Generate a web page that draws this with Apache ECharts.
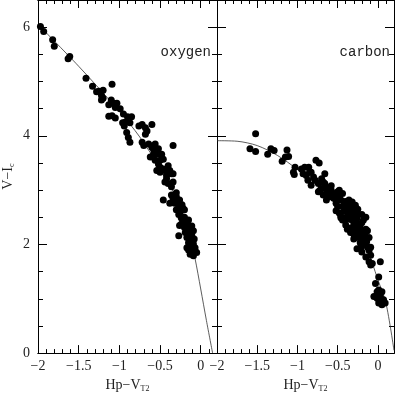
<!DOCTYPE html>
<html>
<head>
<meta charset="utf-8">
<script src="https://cdn.jsdelivr.net/npm/echarts@6/dist/echarts.min.js"></script>
<style>
html, body { margin: 0; padding: 0; background: #fff; }
#main { width: 397px; height: 398px; }
</style>
</head>
<body>
<div id="main"></div>
<script>
// oxygen stars: [Hp-VT2, V-Ic]
var oxygenPoints = [
  [-1.97,6.01],[-1.93,5.92],[-1.82,5.77],[-1.80,5.65],[-1.63,5.42],[-1.61,5.46],[-1.41,5.06],[-1.33,4.91],
  [-1.28,4.81],[-1.25,4.82],[-1.20,4.84],[-1.09,4.95],[-1.22,4.74],[-1.22,4.66],[-1.20,4.69],[-1.10,4.66],
  [-1.13,4.57],[-1.03,4.60],[-1.05,4.52],[-0.99,4.50],[-1.13,4.36],[-0.95,4.40],[-0.90,4.35],[-0.85,4.35],
  [-1.09,4.37],[-1.05,4.33],[-1.07,4.60],[-0.96,4.24],[-0.94,4.18],[-0.93,4.25],[-0.87,4.24],[-0.91,4.06],
  [-0.89,3.97],[-0.87,3.88],[-0.76,4.18],[-0.72,4.21],[-0.68,4.15],[-0.66,4.09],[-0.68,4.03],[-0.60,4.21],
  [-0.72,3.88],[-0.70,3.82],[-0.64,3.85],[-0.60,3.79],[-0.56,3.85],[-0.52,3.76],[-0.54,3.66],[-0.58,3.66],
  [-0.62,3.61],[-0.48,3.66],[-0.46,3.57],[-0.34,3.82],[-0.56,3.55],[-0.52,3.48],[-0.50,3.42],[-0.48,3.39],
  [-0.44,3.36],[-0.40,3.36],[-0.36,3.30],[-0.54,3.36],[-0.50,3.33],[-0.46,3.39],[-0.42,3.27],[-0.38,3.36],
  [-0.34,3.30],[-0.44,3.15],[-0.40,3.12],[-0.36,3.06],[-0.42,3.21],[-0.34,3.15],[-0.46,2.82],[-0.36,2.91],
  [-0.34,2.85],[-0.30,2.88],[-0.26,2.82],[-0.32,2.76],[-0.38,2.76],[-0.27,2.70],[-0.22,2.67],[-0.23,2.73],
  [-0.20,2.64],[-0.30,2.64],[-0.27,2.55],[-0.24,2.49],[-0.22,2.43],[-0.17,2.40],[-0.24,2.37],[-0.20,2.31],
  [-0.15,2.34],[-0.13,2.31],[-0.11,2.34],[-0.17,2.25],[-0.27,2.16],[-0.17,2.13],[-0.13,2.19],[-0.11,2.10],
  [-0.15,2.03],[-0.13,1.97],[-0.09,2.01],[-0.17,1.94],[-0.11,1.88],[-0.07,1.88],[-0.13,1.82],[-0.09,1.79],
  [-0.05,1.85],[-0.07,1.94],[-0.11,2.16],
  [-0.25,2.60],[-0.20,2.50],[-0.15,2.45],[-0.26,2.35],[-0.19,2.22],[-0.09,2.25],[-0.08,2.10],[-0.15,1.90],
  [-0.09,1.90],[-0.30,2.95],[-0.28,2.78],[-0.58,3.75],[-0.50,3.55],[-0.40,3.45]
];
// carbon stars
var carbonPoints = [
  [-1.52,4.04],[-1.59,3.76],[-1.52,3.71],[-1.33,3.76],[-1.29,3.73],[-1.37,3.66],[-1.13,3.74],[-1.15,3.61],
  [-1.11,3.62],[-1.19,3.53],[-1.03,3.42],[-1.04,3.29],[-0.95,3.39],[-0.91,3.42],[-0.86,3.42],[-0.77,3.55],
  [-0.73,3.50],[-0.93,3.30],[-0.89,3.27],[-0.83,3.33],[-0.80,3.24],[-0.87,3.18],[-0.78,3.18],[-0.74,3.12],
  [-0.70,3.21],[-0.68,3.15],[-0.83,3.09],[-0.74,2.97],[-0.70,3.03],[-0.66,3.05],[-0.64,2.94],[-0.68,2.91],
  [-0.64,2.82],[-1.05,3.33],[-0.85,3.33],[-0.66,3.30],[-0.66,3.12],
  [-0.72,3.00],[-0.62,3.03],[-0.58,3.00],[-0.60,2.91],[-0.54,2.91],[-0.50,2.97],[-0.48,3.00],[-0.44,2.94],
  [-0.52,2.82],[-0.46,2.82],[-0.40,2.79],[-0.36,2.82],[-0.50,2.70],[-0.44,2.70],[-0.38,2.70],[-0.34,2.67],
  [-0.42,2.61],[-0.36,2.58],[-0.32,2.55],[-0.30,2.64],[-0.46,2.52],
  [-0.34,2.46],[-0.30,2.40],[-0.26,2.49],[-0.24,2.37],[-0.28,2.31],[-0.38,2.31],[-0.32,2.25],[-0.26,2.22],
  [-0.22,2.25],[-0.24,2.13],[-0.28,2.16],[-0.22,2.03],
  [-0.46,2.49],[-0.40,2.46],[-0.38,2.28],[-0.32,2.31],[-0.28,2.34],[-0.30,2.19],[-0.17,2.10],[-0.15,2.28],
  [-0.13,2.25],[-0.11,2.13],[-0.21,1.95],[-0.26,1.92],[-0.20,1.86],[-0.13,1.95],[-0.11,1.89],[-0.09,1.95],
  [-0.15,1.77],[-0.11,1.68],[-0.09,1.80],[-0.07,1.65],[-0.09,1.62],[0.03,1.68],[0.01,1.40],[-0.03,1.28],
  [-0.01,1.13],[0.01,1.16],[0.05,1.13],[-0.05,1.04],[-0.01,1.01],[0.03,1.04],[0.07,0.98],[0.09,0.92],
  [0.01,0.92],[0.05,0.89],
  [-0.60,2.88],[-0.55,2.85],[-0.57,2.95],[-0.52,2.76],[-0.48,2.88],[-0.42,2.78],[-0.40,2.64],[-0.35,2.73],
  [-0.33,2.61],[-0.38,2.52],[-0.30,2.52],[-0.26,2.58],[-0.27,2.43],[-0.20,2.40],[-0.22,2.31],[-0.19,2.18],
  [-0.16,2.20],[-0.18,2.01],[-0.14,2.05],[-0.62,2.97],[-0.58,3.08],[-0.18,2.45],[-0.15,2.50],[-0.20,2.55],
  [-0.25,2.65],[-0.28,2.72],[-0.32,2.78],[-0.52,2.62],[-0.48,2.58],[-0.44,2.45],[-0.40,2.36],[-0.34,2.22],
  [-0.30,2.10]
];
// fitted relations
var oxygenCurve = [[-2.0,6.05],[-1.5,5.28],[-1.0,4.45],[-0.75,3.98],[-0.5,3.40],[-0.3,2.85],[-0.15,2.25],[-0.07,1.74],[0.0,1.18],[0.07,0.6],[0.146,0]];
var carbonCurve = [[-2.0,3.91],[-1.75,3.90],[-1.5,3.82],[-1.25,3.64],[-1.0,3.38],[-0.75,3.08],[-0.5,2.75],[-0.3,2.38],[-0.15,1.98],[0.0,1.35],[0.1,0.92],[0.2,0.05]];

var xTicks = [-2, -1.5, -1, -0.5, 0];
var yTicks = [0, 2, 4, 6];
var panelNames = ['oxygen', 'carbon'];

var serif = '"Liberation Serif", "DejaVu Serif", serif';
var txt = '#222';

function fmtX(v) {
  for (var i = 0; i < xTicks.length; i++) {
    if (Math.abs(v - xTicks[i]) < 1e-6) return String(xTicks[i]).replace('-', '\u2212');
  }
  return '';
}
function fmtY(v) {
  return yTicks.indexOf(Math.round(v * 100) / 100) >= 0 ? String(v) : '';
}

var subRich = {
  a: { fontFamily: serif, fontSize: 14, color: txt, lineHeight: 16 },
  s: { fontFamily: serif, fontSize: 8, color: txt, lineHeight: 16, verticalAlign: 'bottom', padding: [5, 0, 0, 0] }
};

function xAx(grid, pos, interval, len, main) {
  return {
    type: 'value', gridIndex: grid, position: pos, min: -2, max: 0.2, interval: interval,
    axisLine: { show: true, onZero: false, lineStyle: { color: '#000', width: 1 } },
    axisTick: { show: true, inside: true, length: len, lineStyle: { color: '#000', width: 1 } },
    axisLabel: { show: main, margin: 6, formatter: fmtX, fontFamily: serif, fontSize: 14, color: txt,
      showMinLabel: true, showMaxLabel: true },
    splitLine: { show: false },
    name: main ? '{a|Hp\u2212V}{s|T2}' : '',
    nameLocation: 'middle', nameGap: 23,
    nameTextStyle: { rich: subRich }
  };
}
function yAx(grid, pos, interval, len, main) {
  return {
    type: 'value', gridIndex: grid, position: pos, min: 0, max: 6.5, interval: interval,
    axisLine: { show: true, onZero: false, lineStyle: { color: '#000', width: 1 } },
    axisTick: { show: true, inside: true, length: len, lineStyle: { color: '#000', width: 1 } },
    axisLabel: { show: main, margin: 8, formatter: fmtY, fontFamily: serif, fontSize: 14, color: txt },
    splitLine: { show: false },
    name: main ? '{a|V\u2212I}{s|c}' : '',
    nameLocation: 'middle', nameGap: 22,
    nameTextStyle: { rich: subRich }
  };
}

var xAxes = [], yAxes = [];
[0, 1].forEach(function (g) {
  xAxes.push(xAx(g, 'bottom', 0.5, 8, true));
  xAxes.push(xAx(g, 'bottom', 0.1, 4, false));
  xAxes.push(xAx(g, 'top', 0.5, 8, false));
  xAxes.push(xAx(g, 'top', 0.1, 4, false));
  yAxes.push(yAx(g, 'left', 2, 9, g === 0));
  yAxes.push(yAx(g, 'left', 0.5, 5, false));
  yAxes.push(yAx(g, 'right', 2, 9, false));
  yAxes.push(yAx(g, 'right', 0.5, 5, false));
});

var option = {
  animation: false,
  backgroundColor: '#fff',
  grid: [
    { left: 37, top: 0, width: 180, height: 359 },
    { left: 217, top: 0, width: 180, height: 359 }
  ],
  xAxis: xAxes,
  yAxis: yAxes,
  graphic: [
    { type: 'text', right: 186, top: 45, style: { text: panelNames[0], font: '14px "Liberation Mono", monospace', fill: txt } },
    { type: 'text', right: 7, top: 45, style: { text: panelNames[1], font: '14px "Liberation Mono", monospace', fill: txt } }
  ],
  series: [
    { type: 'line', xAxisIndex: 0, yAxisIndex: 0, data: oxygenCurve, smooth: 0.3, showSymbol: false,
      lineStyle: { color: '#333', width: 0.8 }, z: 1 },
    { type: 'scatter', xAxisIndex: 0, yAxisIndex: 0, data: oxygenPoints, symbolSize: 7,
      itemStyle: { color: '#000', opacity: 1 }, z: 2 },
    { type: 'line', xAxisIndex: 4, yAxisIndex: 4, data: carbonCurve, smooth: 0.3, showSymbol: false,
      lineStyle: { color: '#333', width: 0.8 }, z: 1 },
    { type: 'scatter', xAxisIndex: 4, yAxisIndex: 4, data: carbonPoints, symbolSize: 7,
      itemStyle: { color: '#000', opacity: 1 }, z: 2 }
  ]
};

var myChart = echarts.init(document.getElementById('main'));
myChart.setOption(option);
</script>
</body>
</html>
